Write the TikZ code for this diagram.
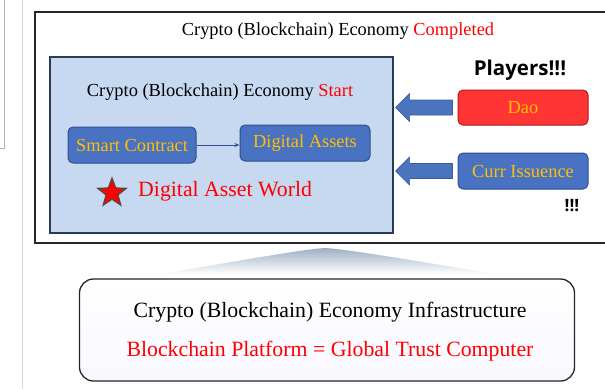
\documentclass[tikz,border=0pt]{standalone}
\usepackage{fontspec}
\setmainfont{Liberation Serif}
\newfontfamily\headfont{Open Sans}
\newfontfamily\bodyfont{Liberation Serif}
\usetikzlibrary{shapes.geometric,arrows.meta,calc}
\definecolor{innerfill}{HTML}{C6D9F0}
\definecolor{innerline}{HTML}{2B3A55}
\definecolor{boxblue}{HTML}{4A72C2}
\definecolor{boxblueline}{HTML}{2F4F8F}
\definecolor{gold}{HTML}{FFC000}
\definecolor{daored}{HTML}{FF3535}
\definecolor{daoline}{HTML}{B01818}
\definecolor{txtred}{HTML}{FF0000}
\definecolor{arrowblue}{HTML}{4A74BE}
\definecolor{arrowline}{HTML}{3A5C9F}
\definecolor{peak}{HTML}{9DB0C4}
\tikzset{
  txt/.style={inner sep=0pt, font=\bodyfont\fontsize{18.4}{22}\selectfont},
  bigtxt/.style={inner sep=0pt, font=\bodyfont\fontsize{21.8}{26}\selectfont},
  pill/.style={draw=boxblueline, line width=1pt, fill=boxblue, rounded corners=5pt,
    text=gold, inner sep=0pt, font=\bodyfont\fontsize{18.4}{22}\selectfont},
  blockarrow/.style={fill=arrowblue, draw=arrowline, line width=0.6pt, line join=round},
  frame/.style={draw=black!85, line width=1.5pt, inner sep=0pt},
}
\begin{document}
\begin{tikzpicture}[x=1pt,y=-1pt]
\useasboundingbox (0,0) rectangle (605,389);
\clip (0,0) rectangle (605,389);
\fill[white] (0,0) rectangle (605,389);

% page edges on the left
\draw[black!30, line width=0.8pt] (0,148) -- (4,148) -- (4,0);
\draw[black!15, line width=0.8pt] (22,0) -- (22,389);

% outer frame: completed economy
\node[frame, minimum width=574pt, minimum height=231pt] (eco) at (322,127.5) {};
\node[txt] (ecotitle) at (338,31) {Crypto (Blockchain) Economy \textcolor{txtred}{Completed}};

% inner frame: economy start
\node[draw=innerline, line width=1.3pt, fill=innerfill, inner sep=0pt,
      minimum width=343pt, minimum height=176pt] (start) at (221.5,145) {};
\node[txt] (starttitle) at (220,92) {Crypto (Blockchain) Economy \textcolor{txtred}{Start}};

\node[pill, minimum width=128pt, minimum height=36pt] (sc) at (132,145) {Smart Contract};
\node[pill, minimum width=130pt, minimum height=36pt] (da) at (305,143) {Digital Assets};
\draw[boxblueline, line width=1pt, -{Stealth[length=5pt,width=4pt]}] (sc.east) -- (sc.east -| da.west);

\node[star, star points=5, star point ratio=2.4, minimum size=30pt, inner sep=0pt,
      fill=red, draw=black!70, line width=1.2pt] (star) at (112,193) {};
\node[bigtxt, anchor=west, text=txtred] (world) at (138,191) {Digital Asset World};

% players
\node[inner sep=0pt, font=\headfont\bfseries\fontsize{20.5}{24}\selectfont] (players) at (520,70) {Players!!!};
\node[pill, fill=daored, draw=daoline, minimum width=130pt, minimum height=35pt] (dao) at (523,107.5) {Dao};
\node[pill, minimum width=130pt, minimum height=36pt] (curr) at (523,171) {Curr Issuence};
\node[inner sep=0pt, font=\headfont\bfseries\fontsize{17}{20}\selectfont] (bang) at (572,206) {!!!};

% block arrows from players into the economy
\foreach \src in {dao,curr}{
  \draw[blockarrow] let \p1=(\src.west), \p2=(start.east) in
    (\x2+2pt,\y1) -- (\x2+16pt,\y1+14pt) -- (\x2+16pt,\y1+7.5pt) -- (\x1-5pt,\y1+7.5pt)
    -- (\x1-5pt,\y1-7.5pt) -- (\x2+16pt,\y1-7.5pt) -- (\x2+16pt,\y1-14pt) -- cycle;
}

% soft peak between the layers
\shade[top color=peak, bottom color=white, draw=none]
  (160,274) .. controls (250,259) and (305,249) .. (325,248)
  .. controls (345,249) and (405,259) .. (495,274) -- cycle;

% infrastructure layer
\node[draw=black!85, line width=1.3pt, rounded corners=14pt, inner sep=0pt,
      top color=white, bottom color=black!4!blue!3,
      minimum width=495pt, minimum height=102pt] (infra) at (327,330) {};
\node[bigtxt] (infratitle) at (330,312) {Crypto (Blockchain) Economy Infrastructure};
\node[bigtxt, text=txtred] (platform) at (330,351) {Blockchain Platform = Global Trust Computer};
\end{tikzpicture}
\end{document}
